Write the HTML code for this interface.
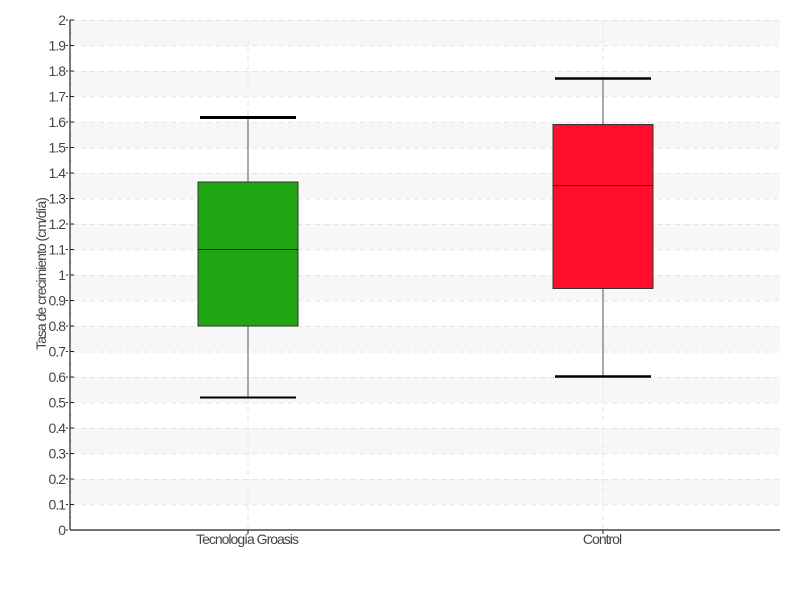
<!DOCTYPE html>
<html><head><meta charset="utf-8"><style>body{margin:0;background:#fff}svg{display:block}text{font-family:"Liberation Sans",sans-serif;fill:#444}</style></head><body>
<svg width="800" height="600" xmlns="http://www.w3.org/2000/svg">
<defs>
<pattern id="bd" x="0" y="20" width="710" height="51" patternUnits="userSpaceOnUse"><rect x="0" y="0" width="710" height="25.5" fill="#f7f7f7"/></pattern>
<pattern id="gl" x="0" y="20" width="710" height="25.5" patternUnits="userSpaceOnUse"><line x1="0" x2="710" y1="0.5" y2="0.5" stroke="#e4e4e4" stroke-dasharray="5,4"/></pattern>
<pattern id="mj" x="0" y="19.5" width="10" height="25.5" patternUnits="userSpaceOnUse"><rect x="0" y="0" width="8" height="1" fill="#222"/></pattern>
<pattern id="mn" x="0" y="32.25" width="10" height="25.5" patternUnits="userSpaceOnUse"><rect x="0" y="0" width="3" height="1" fill="#e33"/></pattern>
</defs>
<rect x="70" y="20" width="710" height="510" fill="url(#bd)"/>
<rect x="70" y="20" width="710" height="510" fill="url(#gl)"/>
<line x1="248" x2="248" y1="20" y2="530" stroke="#e4e4e4" stroke-dasharray="5,4"/>
<line x1="603" x2="603" y1="20" y2="530" stroke="#e4e4e4" stroke-dasharray="5,4"/>
<rect x="66" y="19.5" width="8" height="511" fill="url(#mj)"/>
<rect x="68" y="20" width="3" height="510" fill="url(#mn)"/>
<line x1="70" y1="20" x2="70" y2="530" stroke="#222" stroke-width="1.2"/>
<line x1="70" y1="530" x2="780" y2="530" stroke="#222" stroke-width="1.2"/>
<line x1="248" y1="530" x2="248" y2="534" stroke="#222"/><line x1="603" y1="530" x2="603" y2="534" stroke="#222"/>
<g font-size="14" text-anchor="end" letter-spacing="-1">
<text x="65" y="535">0</text><text x="65" y="509.5">0.1</text><text x="65" y="484">0.2</text><text x="65" y="458.5">0.3</text><text x="65" y="433">0.4</text><text x="65" y="407.5">0.5</text><text x="65" y="382">0.6</text><text x="65" y="356.5">0.7</text><text x="65" y="331">0.8</text><text x="65" y="305.5">0.9</text><text x="65" y="280">1</text><text x="65" y="254.5">1.1</text><text x="65" y="229">1.2</text><text x="65" y="203.5">1.3</text><text x="65" y="178">1.4</text><text x="65" y="152.5">1.5</text><text x="65" y="127">1.6</text><text x="65" y="101.5">1.7</text><text x="65" y="76">1.8</text><text x="65" y="50.5">1.9</text><text x="65" y="25">2</text>
</g>
<line x1="248" y1="117.5" x2="248" y2="397.5" stroke="#555"/>
<rect x="198" y="182" width="100" height="144" fill="#22a512" stroke="#333"/>
<line x1="198" x2="298" y1="249.5" y2="249.5" stroke="#222"/>
<line x1="200" x2="296" y1="117.5" y2="117.5" stroke="#000" stroke-width="3"/>
<line x1="200" x2="296" y1="397.5" y2="397.5" stroke="#000" stroke-width="2"/>
<line x1="603" y1="78.5" x2="603" y2="376.5" stroke="#555"/>
<rect x="553" y="124.5" width="100" height="164" fill="#ff0d2a" stroke="#333"/>
<line x1="553" x2="653" y1="185.5" y2="185.5" stroke="#222"/>
<line x1="555" x2="651" y1="78.5" y2="78.5" stroke="#000" stroke-width="2.5"/>
<line x1="555" x2="651" y1="376.5" y2="376.5" stroke="#000" stroke-width="2.5"/>
<text x="247" y="544" font-size="14" text-anchor="middle" letter-spacing="-1">Tecnología Groasis</text>
<text x="602" y="544" font-size="14" text-anchor="middle" letter-spacing="-1">Control</text>
<text transform="translate(46,274) rotate(-90)" font-size="14" text-anchor="middle" letter-spacing="-1">Tasa de crecimiento (cm/día)</text>
</svg>
</body></html>
